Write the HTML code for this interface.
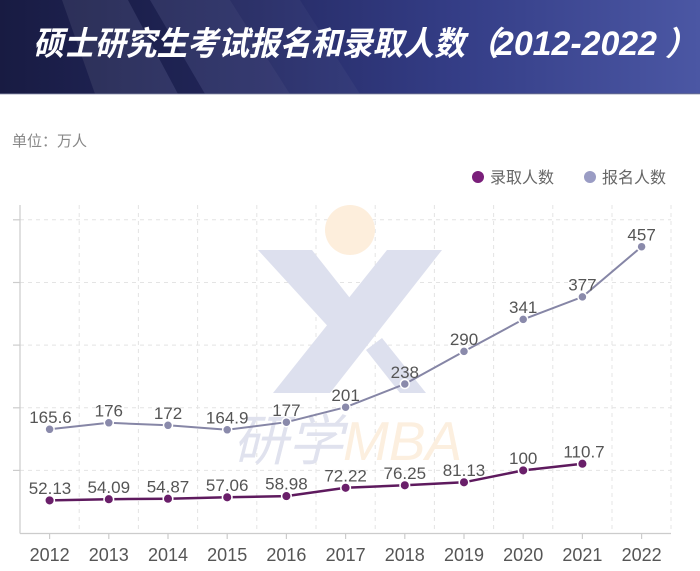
<!DOCTYPE html>
<html><head><meta charset="utf-8"><style>
html,body{margin:0;padding:0;background:#fff;}
svg{display:block;}
text{font-family:"Liberation Sans","Noto Sans CJK SC",sans-serif;}
</style></head><body>
<svg width="700" height="571" viewBox="0 0 700 571" xmlns="http://www.w3.org/2000/svg">
<defs>
<linearGradient id="hg" x1="0" y1="0" x2="1" y2="0">
<stop offset="0" stop-color="#181b42"/>
<stop offset="0.35" stop-color="#252a63"/>
<stop offset="0.65" stop-color="#343d86"/>
<stop offset="1" stop-color="#4b57a4"/>
</linearGradient>
</defs>
<!-- header -->
<rect x="0" y="0" width="700" height="94" fill="url(#hg)"/>
<polygon points="62,0 128,0 178,94 95,94" fill="#ffffff" opacity="0.08"/>
<polygon points="128,0 150,0 205,94 178,94" fill="#000000" opacity="0.08"/>
<polygon points="150,0 230,0 290,94 205,94" fill="#ffffff" opacity="0.07"/>
<polygon points="230,0 300,0 360,94 290,94" fill="#ffffff" opacity="0.035"/>
<rect x="0" y="93" width="700" height="1.5" fill="#6b6f8f" opacity="0.6"/>
<g font-weight="bold" font-style="italic" fill="#ffffff">
<text x="33" y="55" font-size="33" textLength="432" lengthAdjust="spacingAndGlyphs">硕士研究生考试报名和录取人数</text>
<text x="466" y="55" font-size="33">（</text>
<text x="495" y="55" font-size="34" textLength="162" lengthAdjust="spacingAndGlyphs">2012-2022</text>
<text x="665" y="55" font-size="33">）</text>
</g>

<!-- unit -->
<text x="12" y="146" font-size="15" fill="#888">单位：万人</text>

<!-- legend -->
<circle cx="478" cy="177" r="6" fill="#7a1f7a"/>
<text x="490" y="183" font-size="16" fill="#666">录取人数</text>
<circle cx="590" cy="177" r="6" fill="#9a9cc4"/>
<text x="602" y="183" font-size="16" fill="#666">报名人数</text>

<!-- grid -->
<g stroke="#e4e4e4" stroke-width="1" stroke-dasharray="4,4" fill="none">
<line x1="20" y1="470.4" x2="671" y2="470.4"/>
<line x1="20" y1="407.8" x2="671" y2="407.8"/>
<line x1="20" y1="345.1" x2="671" y2="345.1"/>
<line x1="20" y1="282.5" x2="671" y2="282.5"/>
<line x1="20" y1="219.8" x2="671" y2="219.8"/>
<line x1="79.2" y1="205" x2="79.2" y2="533"/>
<line x1="138.4" y1="205" x2="138.4" y2="533"/>
<line x1="197.6" y1="205" x2="197.6" y2="533"/>
<line x1="256.8" y1="205" x2="256.8" y2="533"/>
<line x1="316" y1="205" x2="316" y2="533"/>
<line x1="375.2" y1="205" x2="375.2" y2="533"/>
<line x1="434.4" y1="205" x2="434.4" y2="533"/>
<line x1="493.6" y1="205" x2="493.6" y2="533"/>
<line x1="552.8" y1="205" x2="552.8" y2="533"/>
<line x1="612" y1="205" x2="612" y2="533"/>
<line x1="671" y1="205" x2="671" y2="533"/>
</g>

<!-- watermark -->
<circle cx="350" cy="230" r="25" fill="#fdeedc"/>
<polygon points="387,250 442,250 330,393 273,393" fill="#dde0ee"/>
<polygon points="258,250 312,250 372,326 345,345" fill="#dde0ee"/>
<polygon points="366,350 382,338 426,393 400,393" fill="#dde0ee"/>
<text x="233" y="460" font-size="55" font-style="italic" fill="#e0e2ee">研学<tspan fill="#fcefdf">MBA</tspan></text>

<!-- axes -->
<g stroke="#cccccc" stroke-width="1.2" fill="none">
<line x1="20" y1="205" x2="20" y2="533.5"/>
<line x1="20" y1="533.5" x2="671" y2="533.5"/>
<line x1="13" y1="470.4" x2="20" y2="470.4"/>
<line x1="13" y1="407.8" x2="20" y2="407.8"/>
<line x1="13" y1="345.1" x2="20" y2="345.1"/>
<line x1="13" y1="282.5" x2="20" y2="282.5"/>
<line x1="13" y1="219.8" x2="20" y2="219.8"/>
<line x1="49.6" y1="533" x2="49.6" y2="539"/>
<line x1="108.8" y1="533" x2="108.8" y2="539"/>
<line x1="168" y1="533" x2="168" y2="539"/>
<line x1="227.2" y1="533" x2="227.2" y2="539"/>
<line x1="286.4" y1="533" x2="286.4" y2="539"/>
<line x1="345.6" y1="533" x2="345.6" y2="539"/>
<line x1="404.8" y1="533" x2="404.8" y2="539"/>
<line x1="464" y1="533" x2="464" y2="539"/>
<line x1="523.2" y1="533" x2="523.2" y2="539"/>
<line x1="582.4" y1="533" x2="582.4" y2="539"/>
<line x1="641.6" y1="533" x2="641.6" y2="539"/>
</g>

<!-- x labels -->
<g font-size="18" fill="#555" text-anchor="middle">
<text x="49.6" y="561">2012</text>
<text x="108.8" y="561">2013</text>
<text x="168" y="561">2014</text>
<text x="227.2" y="561">2015</text>
<text x="286.4" y="561">2016</text>
<text x="345.6" y="561">2017</text>
<text x="404.8" y="561">2018</text>
<text x="464" y="561">2019</text>
<text x="523.2" y="561">2020</text>
<text x="582.4" y="561">2021</text>
<text x="641.6" y="561">2022</text>
</g>

<!-- report series -->
<polyline fill="none" stroke="#8686a6" stroke-width="2" points="49.6,429.3 108.8,422.8 168,425.3 227.2,429.8 286.4,422.2 345.6,407.2 404.8,384 464,351.4 523.2,319.4 582.4,296.9 641.6,246.7"/>
<g fill="#8a8aab" stroke="#ffffff" stroke-width="1.5">
<circle cx="49.6" cy="429.3" r="4.5"/>
<circle cx="108.8" cy="422.8" r="4.5"/>
<circle cx="168" cy="425.3" r="4.5"/>
<circle cx="227.2" cy="429.8" r="4.5"/>
<circle cx="286.4" cy="422.2" r="4.5"/>
<circle cx="345.6" cy="407.2" r="4.5"/>
<circle cx="404.8" cy="384" r="4.5"/>
<circle cx="464" cy="351.4" r="4.5"/>
<circle cx="523.2" cy="319.4" r="4.5"/>
<circle cx="582.4" cy="296.9" r="4.5"/>
<circle cx="641.6" cy="246.7" r="4.5"/>
</g>
<g font-size="17" fill="#555" text-anchor="middle">
<text x="50.5" y="423">165.6</text>
<text x="108.8" y="416.5">176</text>
<text x="168" y="419">172</text>
<text x="227.2" y="423.5">164.9</text>
<text x="286.4" y="416">177</text>
<text x="345.6" y="401">201</text>
<text x="404.8" y="378">238</text>
<text x="464" y="345">290</text>
<text x="523.2" y="313">341</text>
<text x="582.4" y="290.5">377</text>
<text x="641.6" y="240.5">457</text>
</g>

<!-- admission series -->
<polyline fill="none" stroke="#5e1a5e" stroke-width="2.5" points="49.6,500.4 108.8,499.2 168,498.7 227.2,497.3 286.4,496.1 345.6,487.8 404.8,485.3 464,482.3 523.2,470.4 582.4,463.7"/>
<g fill="#6a1f6a" stroke="#ffffff" stroke-width="1.5">
<circle cx="49.6" cy="500.4" r="4.8"/>
<circle cx="108.8" cy="499.2" r="4.8"/>
<circle cx="168" cy="498.7" r="4.8"/>
<circle cx="227.2" cy="497.3" r="4.8"/>
<circle cx="286.4" cy="496.1" r="4.8"/>
<circle cx="345.6" cy="487.8" r="4.8"/>
<circle cx="404.8" cy="485.3" r="4.8"/>
<circle cx="464" cy="482.3" r="4.8"/>
<circle cx="523.2" cy="470.4" r="4.8"/>
<circle cx="582.4" cy="463.7" r="4.8"/>
</g>
<g font-size="17" fill="#555" text-anchor="middle">
<text x="50" y="494">52.13</text>
<text x="108.8" y="492.8">54.09</text>
<text x="168" y="492.3">54.87</text>
<text x="227.2" y="491">57.06</text>
<text x="286.4" y="489.7">58.98</text>
<text x="345.6" y="481.4">72.22</text>
<text x="404.8" y="479">76.25</text>
<text x="464" y="476">81.13</text>
<text x="523.2" y="464">100</text>
<text x="584" y="457.3">110.7</text>
</g>
</svg>
</body></html>
